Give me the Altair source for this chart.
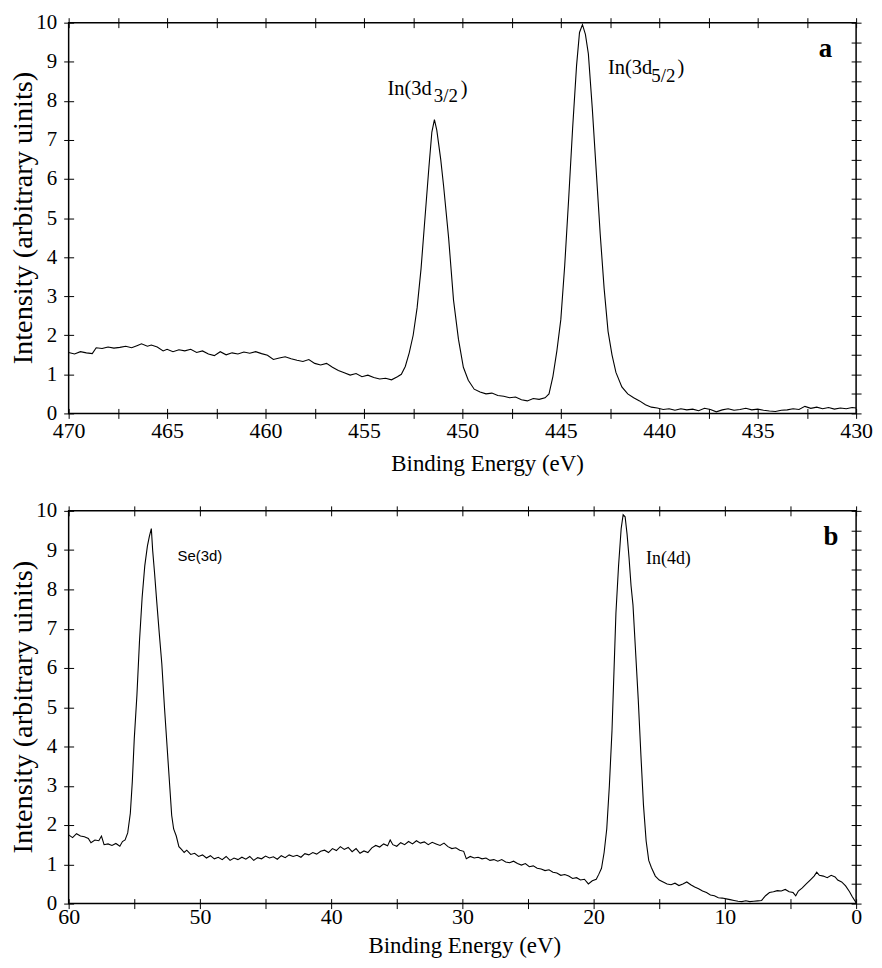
import altair as alt
import pandas as pd

# ---------------- Panel a : In 3d region ----------------
a_energy = [470.0, 469.7, 469.4, 469.1, 468.8, 468.6, 468.3, 468.0, 467.7, 467.4,
            467.1, 466.8, 466.5, 466.3, 466.0, 465.8, 465.5, 465.2, 465.0, 464.7,
            464.4, 464.1, 463.8, 463.5, 463.2, 462.9, 462.6, 462.3, 462.0, 461.7,
            461.4, 461.1, 460.8, 460.5, 460.2, 459.9, 459.6, 459.3, 459.0, 458.7,
            458.4, 458.1, 457.8, 457.5, 457.2, 456.9, 456.6, 456.3, 456.0, 455.7,
            455.4, 455.1, 454.8, 454.5, 454.2, 453.9, 453.6, 453.3, 453.1, 452.9,
            452.7, 452.5, 452.3, 452.1, 451.9, 451.7, 451.55, 451.42, 451.3, 451.1,
            450.95, 450.7, 450.45, 450.2, 449.95, 449.7, 449.4, 449.1, 448.8, 448.5,
            448.2, 447.9, 447.6, 447.3, 447.0, 446.7, 446.4, 446.1, 445.8, 445.6,
            445.4, 445.2, 445.0, 444.8, 444.6, 444.4, 444.2, 444.05, 443.9, 443.75,
            443.6, 443.4, 443.2, 443.0, 442.8, 442.6, 442.4, 442.2, 441.9, 441.6,
            441.3, 441.0, 440.7, 440.4, 440.1, 439.8, 439.5, 439.2, 438.9, 438.6,
            438.3, 438.0, 437.7, 437.4, 437.1, 436.8, 436.5, 436.2, 435.9, 435.6,
            435.3, 435.0, 434.7, 434.4, 434.1, 433.8, 433.5, 433.2, 432.9, 432.6,
            432.3, 432.0, 431.7, 431.4, 431.1, 430.8, 430.5, 430.2, 430.0]
a_intensity = [1.56, 1.52, 1.58, 1.55, 1.53, 1.68, 1.66, 1.70, 1.67, 1.69,
               1.72, 1.68, 1.74, 1.78, 1.72, 1.75, 1.70, 1.60, 1.64, 1.58,
               1.63, 1.60, 1.64, 1.56, 1.60, 1.52, 1.48, 1.58, 1.50, 1.55,
               1.52, 1.57, 1.54, 1.58, 1.53, 1.49, 1.38, 1.42, 1.45, 1.40,
               1.36, 1.33, 1.38, 1.28, 1.24, 1.28, 1.18, 1.10, 1.04, 0.98,
               1.02, 0.94, 0.98, 0.92, 0.88, 0.90, 0.86, 0.94, 1.00, 1.20,
               1.55, 2.00, 2.70, 3.70, 5.00, 6.30, 7.20, 7.52, 7.25, 6.50,
               5.80, 4.50, 2.90, 1.90, 1.18, 0.85, 0.62, 0.55, 0.50, 0.52,
               0.46, 0.44, 0.40, 0.42, 0.35, 0.32, 0.38, 0.36, 0.40, 0.50,
               0.95, 1.60, 2.40, 3.80, 5.50, 7.30, 8.90, 9.75, 9.95, 9.70,
               9.20, 7.80, 6.20, 4.60, 3.20, 2.10, 1.50, 1.05, 0.68, 0.50,
               0.40, 0.32, 0.22, 0.16, 0.14, 0.10, 0.12, 0.08, 0.12, 0.09,
               0.11, 0.07, 0.13, 0.10, 0.04, 0.09, 0.12, 0.08, 0.10, 0.13,
               0.09, 0.11, 0.08, 0.06, 0.05, 0.08, 0.09, 0.12, 0.10, 0.18,
               0.13, 0.16, 0.12, 0.15, 0.11, 0.14, 0.12, 0.15, 0.14]

# ---------------- Panel b : valence / shallow core ----------------
b_energy = [60.0, 59.7, 59.4, 59.1, 58.8, 58.5, 58.3, 58.0, 57.7, 57.5,
            57.3, 57.0, 56.7, 56.4, 56.1, 55.9, 55.7, 55.5, 55.3, 55.15,
            55.0, 54.8, 54.6, 54.4, 54.2, 54.0, 53.85, 53.7, 53.6, 53.45,
            53.3, 53.1, 52.9, 52.7, 52.5, 52.3, 52.15, 52.0, 51.8, 51.6,
            51.4, 51.2, 51.0, 50.7, 50.4, 50.1, 49.8, 49.5, 49.2, 48.9,
            48.6, 48.3, 48.0, 47.7, 47.4, 47.1, 46.8, 46.5, 46.2, 45.9,
            45.6, 45.3, 45.0, 44.7, 44.4, 44.1, 43.8, 43.5, 43.2, 42.9,
            42.6, 42.3, 42.0, 41.7, 41.4, 41.1, 40.8, 40.5, 40.2, 39.9,
            39.6, 39.3, 39.0, 38.7, 38.4, 38.1, 37.8, 37.5, 37.2, 36.9,
            36.6, 36.3, 36.0, 35.7, 35.5, 35.3, 35.0, 34.7, 34.4, 34.1,
            33.8, 33.5, 33.2, 32.9, 32.6, 32.3, 32.0, 31.7, 31.4, 31.1,
            30.8, 30.5, 30.2, 29.9, 29.7, 29.4, 29.1, 28.8, 28.5, 28.2,
            27.9, 27.6, 27.3, 27.0, 26.7, 26.4, 26.1, 25.8, 25.5, 25.2,
            24.9, 24.6, 24.3, 24.0, 23.7, 23.4, 23.1, 22.8, 22.5, 22.2,
            21.9, 21.6, 21.3, 21.0, 20.7, 20.4, 20.1, 19.8, 19.6, 19.4,
            19.2, 19.0, 18.8, 18.6, 18.45, 18.3, 18.1, 17.9, 17.75, 17.6,
            17.45, 17.3, 17.15, 17.0, 16.8, 16.6, 16.4, 16.2, 16.0, 15.8,
            15.6, 15.3, 15.0, 14.7, 14.4, 14.1, 13.8, 13.5, 13.2, 12.9,
            12.6, 12.3, 12.0, 11.7, 11.4, 11.1, 10.8, 10.5, 10.2, 9.9,
            9.6, 9.3, 9.0, 8.7, 8.4, 8.1, 7.8, 7.5, 7.2, 6.9,
            6.6, 6.3, 6.0, 5.7, 5.4, 5.1, 4.8, 4.6, 4.4, 4.1,
            3.8, 3.5, 3.2, 3.0, 2.8, 2.5, 2.2, 1.9, 1.6, 1.4,
            1.1, 0.8, 0.5, 0.3, 0.0]
b_intensity = [1.75, 1.68, 1.78, 1.72, 1.70, 1.66, 1.55, 1.62, 1.60, 1.72,
               1.50, 1.52, 1.48, 1.53, 1.46, 1.58, 1.62, 1.80, 2.30, 3.10,
               4.20, 5.30, 6.70, 7.80, 8.60, 9.10, 9.35, 9.55, 9.00, 8.40,
               7.74, 6.90, 6.10, 5.00, 4.00, 3.00, 2.25, 1.90, 1.72, 1.45,
               1.38, 1.30, 1.36, 1.25, 1.28, 1.20, 1.24, 1.16, 1.22, 1.14,
               1.18, 1.12, 1.20, 1.10, 1.16, 1.12, 1.18, 1.13, 1.20, 1.10,
               1.17, 1.14, 1.21, 1.16, 1.19, 1.13, 1.22, 1.17, 1.24, 1.20,
               1.23, 1.18, 1.27, 1.24, 1.30, 1.26, 1.33, 1.36, 1.30, 1.40,
               1.35, 1.45, 1.38, 1.43, 1.32, 1.40, 1.28, 1.34, 1.30, 1.42,
               1.48, 1.44, 1.52, 1.47, 1.62, 1.50, 1.46, 1.55, 1.50, 1.58,
               1.52, 1.60, 1.54, 1.57, 1.50, 1.56, 1.52, 1.48, 1.54, 1.45,
               1.40, 1.42, 1.36, 1.33, 1.14, 1.20, 1.16, 1.18, 1.14, 1.16,
               1.10, 1.12, 1.08, 1.12, 1.06, 1.04, 1.08, 1.02, 0.98, 1.02,
               0.94, 0.96, 0.90, 0.88, 0.84, 0.86, 0.80, 0.78, 0.72, 0.74,
               0.70, 0.64, 0.66, 0.60, 0.62, 0.50, 0.58, 0.62, 0.75, 0.90,
               1.30, 1.90, 3.00, 4.40, 5.90, 7.40, 8.60, 9.55, 9.90, 9.85,
               9.40, 8.80, 8.10, 7.60, 6.40, 5.20, 3.80, 2.50, 1.60, 1.10,
               0.92, 0.70, 0.60, 0.55, 0.50, 0.48, 0.52, 0.46, 0.50, 0.55,
               0.48, 0.42, 0.38, 0.32, 0.28, 0.22, 0.20, 0.15, 0.14, 0.12,
               0.10, 0.08, 0.06, 0.05, 0.07, 0.05, 0.06, 0.07, 0.08, 0.20,
               0.28, 0.30, 0.33, 0.32, 0.36, 0.30, 0.28, 0.20, 0.32, 0.40,
               0.50, 0.60, 0.70, 0.80, 0.72, 0.70, 0.66, 0.72, 0.68, 0.60,
               0.55, 0.45, 0.30, 0.18, 0.02]

# ---------------- Axes ----------------
a_domain = [430, 470]
b_domain = [0, 60]
a_xticks = [470, 467.5, 465, 462.5, 460, 457.5, 455, 452.5, 450, 447.5,
            445, 442.5, 440, 437.5, 435, 432.5, 430]
b_xticks = [60, 55, 50, 45, 40, 35, 30, 25, 20, 15, 10, 5, 0]
y_ticks = [0, 0.5, 1, 1.5, 2, 2.5, 3, 3.5, 4, 4.5, 5, 5.5, 6, 6.5, 7, 7.5,
           8, 8.5, 9, 9.5, 10]
x_title = "Binding Energy (eV)"
y_title = "Intensity (arbitrary uinits)"

# ---------------- Annotations ----------------
a_main_text = ["In(3d", ")", "In(3d", ")"]
a_main_x = [453.8, 450.08, 442.6, 439.07]
a_main_y = [8.16, 8.16, 8.69, 8.69]
a_sub_text = ["3/2", "5/2"]
a_sub_x = [451.45, 440.4]
a_sub_y = [7.97, 8.49]
a_letter = ["a"]
a_letter_x = [431.9]
a_letter_y = [9.13]

b_serif_text = ["In(4d)"]
b_serif_x = [16.0]
b_serif_y = [8.65]
b_sans_text = ["Se(3d)"]
b_sans_x = [51.7]
b_sans_y = [8.72]
b_letter = ["b"]
b_letter_x = [2.48]
b_letter_y = [9.14]

SERIF = "Liberation Serif"
SANS = "Liberation Sans"
W = 792


def make_panel(energy, intensity, domain, xticks, label_step, height, groups,
               label_pad, xtitle_center, xtitle_base):
    df = pd.DataFrame({"E": energy, "I": intensity})
    xs = alt.Scale(domain=domain, reverse=True, nice=False, zero=False)
    ys = alt.Scale(domain=[0, 10], nice=False, zero=False)
    common = dict(grid=False, domain=False, tickColor="black", tickWidth=1,
                  tickSize=10, offset=-5)
    x_main = alt.Axis(values=xticks, orient="bottom", title=None, format="d",
                      labelExpr=f"datum.value % {label_step} === 0 ? datum.label : ''",
                      labelFont=SERIF, labelFontSize=22, labelColor="black",
                      labelPadding=label_pad, labelFlush=False, labelOverlap=False,
                      **common)
    y_main = alt.Axis(values=y_ticks, orient="left", title=None, format="d",
                      labelExpr="datum.value % 1 === 0 ? datum.label : ''",
                      labelFont=SERIF, labelFontSize=21, labelColor="black",
                      labelPadding=7, labelFlush=False, labelOverlap=False,
                      **common)
    line = alt.Chart(df).mark_line(color="black", strokeWidth=1.1).encode(
        x=alt.X("E:Q", scale=xs, axis=x_main),
        y=alt.Y("I:Q", scale=ys, axis=y_main),
        order=alt.Order("E:Q", sort="descending"),
    )
    ticks2 = alt.Chart(df).mark_line(opacity=0).encode(
        x=alt.X("E:Q", scale=xs, axis=alt.Axis(values=xticks, orient="top",
                                                labels=False, title=None, **common)),
        y=alt.Y("I:Q", scale=ys, axis=alt.Axis(values=y_ticks, orient="right",
                                                labels=False, title=None, **common)),
    )
    layers = [line, ticks2]
    for (texts, xv, yv), font, size, weight in groups:
        tdf = pd.DataFrame({"t": texts, "x": xv, "y": yv})
        layers.append(
            alt.Chart(tdf).mark_text(font=font, fontSize=size, fontWeight=weight,
                                     align="left", baseline="alphabetic",
                                     color="black").encode(
                x=alt.X("x:Q", scale=xs, axis=None),
                y=alt.Y("y:Q", scale=ys, axis=None),
                text="t:N",
            )
        )
    # axis titles as serif text
    layers.append(
        alt.Chart(pd.DataFrame({"t": [x_title]})).mark_text(
            font=SERIF, fontSize=23, align="center", baseline="alphabetic",
            color="black").encode(
            x=alt.value(xtitle_center * W), y=alt.value(height + xtitle_base),
            text="t:N")
    )
    layers.append(
        alt.Chart(pd.DataFrame({"t": [y_title]})).mark_text(
            font=SERIF, fontSize=28.5, align="center", baseline="alphabetic",
            angle=270, color="black").encode(
            x=alt.value(-37), y=alt.value(height / 2), text="t:N")
    )
    return alt.layer(*layers).resolve_scale(x="independent", y="independent").properties(
        width=W, height=height)


panel_a = make_panel(
    a_energy, a_intensity, a_domain, a_xticks, 5, 393,
    [((a_main_text, a_main_x, a_main_y), SERIF, 20.5, "normal"),
     ((a_sub_text, a_sub_x, a_sub_y), SERIF, 19, "normal"),
     ((a_letter, a_letter_x, a_letter_y), SERIF, 27, "bold")],
    2, 0.532, 58)
panel_b = make_panel(
    b_energy, b_intensity, b_domain, b_xticks, 10, 395,
    [((b_serif_text, b_serif_x, b_serif_y), SERIF, 18, "normal"),
     ((b_sans_text, b_sans_x, b_sans_y), SANS, 15, "normal"),
     ((b_letter, b_letter_x, b_letter_y), SERIF, 27, "bold")],
    -2, 0.503, 50)

chart = alt.vconcat(panel_a, panel_b, spacing=98, bounds="flush").properties(
    padding={"left": 0, "top": 0, "right": 0, "bottom": 0},
).configure(
    background="white",
    font=SERIF,
    view=alt.ViewConfig(stroke="black", strokeWidth=1.5),
    axis=alt.AxisConfig(labelFont=SERIF, titleFont=SERIF),
)

chart.save("out.html", embed_options={"renderer": "svg", "actions": False})
